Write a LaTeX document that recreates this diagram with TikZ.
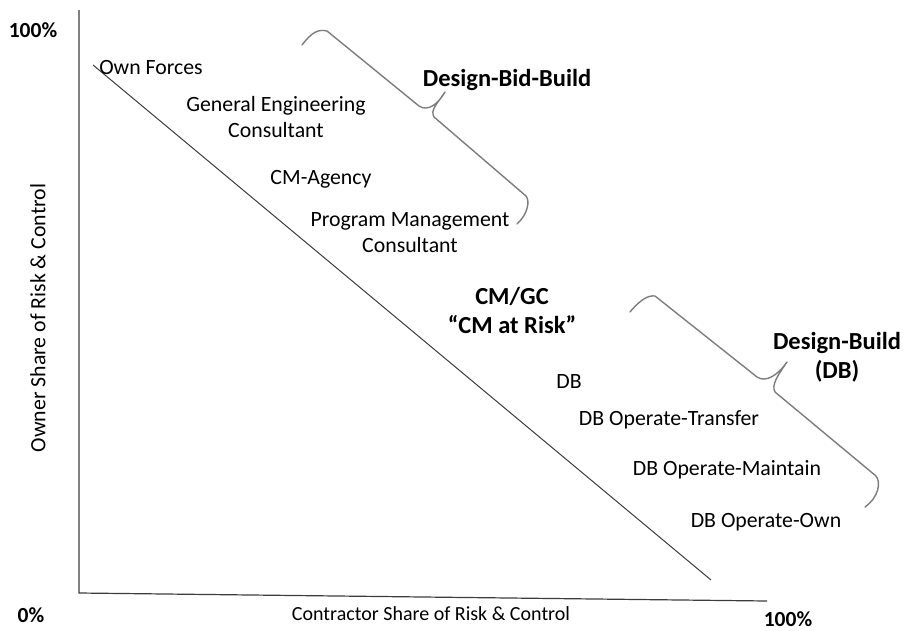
\documentclass[tikz,border=0pt]{standalone}
\usepackage{fontspec}
\setmainfont{Carlito}
\usepackage{xcolor}
\usepackage{tikz}
\usetikzlibrary{positioning,calc}
\definecolor{bracegray}{RGB}{125,125,125}
\definecolor{axisgray}{RGB}{60,60,60}

\tikzset{
  lbl/.style={font=\fontsize{21.8}{26}\selectfont, align=center, inner sep=0pt},
  pctlbl/.style={font=\fontsize{21.5}{26}\selectfont\bfseries, align=center, inner sep=0pt},
  boldlbl/.style={font=\fontsize{24.5}{29}\selectfont\bfseries, align=center, inner sep=0pt},
  curly/.style={draw=bracegray, line width=1.4pt, line cap=round, line join=round},
}

\begin{document}
\begin{tikzpicture}[x=1pt, y=-1pt]
        \useasboundingbox (0,0) rectangle (903,630);

        % axes
        \coordinate (ytop) at (79,10);
        \coordinate (origin) at (79,593);
        \coordinate (xend) at (767,601);
        \draw[axisgray, line width=1.2pt] (ytop) -- (origin) -- (xend);

        % diagonal
        \coordinate (dstart) at (93,65);
        \coordinate (dend) at (711,580);
        \draw[axisgray, line width=1pt] (dstart) -- (dend);

        % axis labels
        \node[pctlbl] (ymax) at (33,30) {100\%};
        \node[pctlbl] (zero) at (31,615) {0\%};
        \node[pctlbl] (xmax) at (788,619) {100\%};
        \node[lbl, font=\fontsize{20}{24}\selectfont] (xlabel) at (431,614) {Contractor Share of Risk \& Control};
        \node[lbl, rotate=90] (ylabel) at (38,318) {Owner Share of Risk \& Control};

        % delivery methods
        \node[lbl] (own) at (151,68) {Own Forces};
        \node[lbl] (gec) at (276,117) {General Engineering\\Consultant};
        \node[lbl] (cma) at (321,179) {CM-Agency};
        \node[lbl] (pmc) at (410,233) {Program Management\\Consultant};
        \node[boldlbl] (cmgc) at (512,310) {CM/GC\\``CM at Risk''};
        \node[lbl] (db) at (569,381) {DB};
        \node[lbl] (dbot) at (669,420) {DB Operate-Transfer};
        \node[lbl] (dbom) at (727,470) {DB Operate-Maintain};
        \node[lbl] (dboo) at (766,522) {DB Operate-Own};

        % groups
        \node[boldlbl] (dbb) at (507,80) {Design-Bid-Build};
        \node[boldlbl] (dbld) at (837,357) {Design-Build\\(DB)};

        \draw[curly] (302,45) .. controls (312,32) and (318,29) .. (327,31) -- (419,106)
            .. controls (428,112) and (438,104) .. (445,92)
            .. controls (437,104) and (430,110) .. (434,117) -- (526,196)
            .. controls (530,201) and (528,214) .. (517,224);
        \draw[curly] (630,312) .. controls (640,300) and (648,295) .. (655,296) -- (757,377)
            .. controls (766,383) and (778,375) .. (787,362)
            .. controls (778,375) and (771,385) .. (775,392) -- (876,476)
            .. controls (881,482) and (879,497) .. (865,507);
    \end{tikzpicture}
\end{document}
